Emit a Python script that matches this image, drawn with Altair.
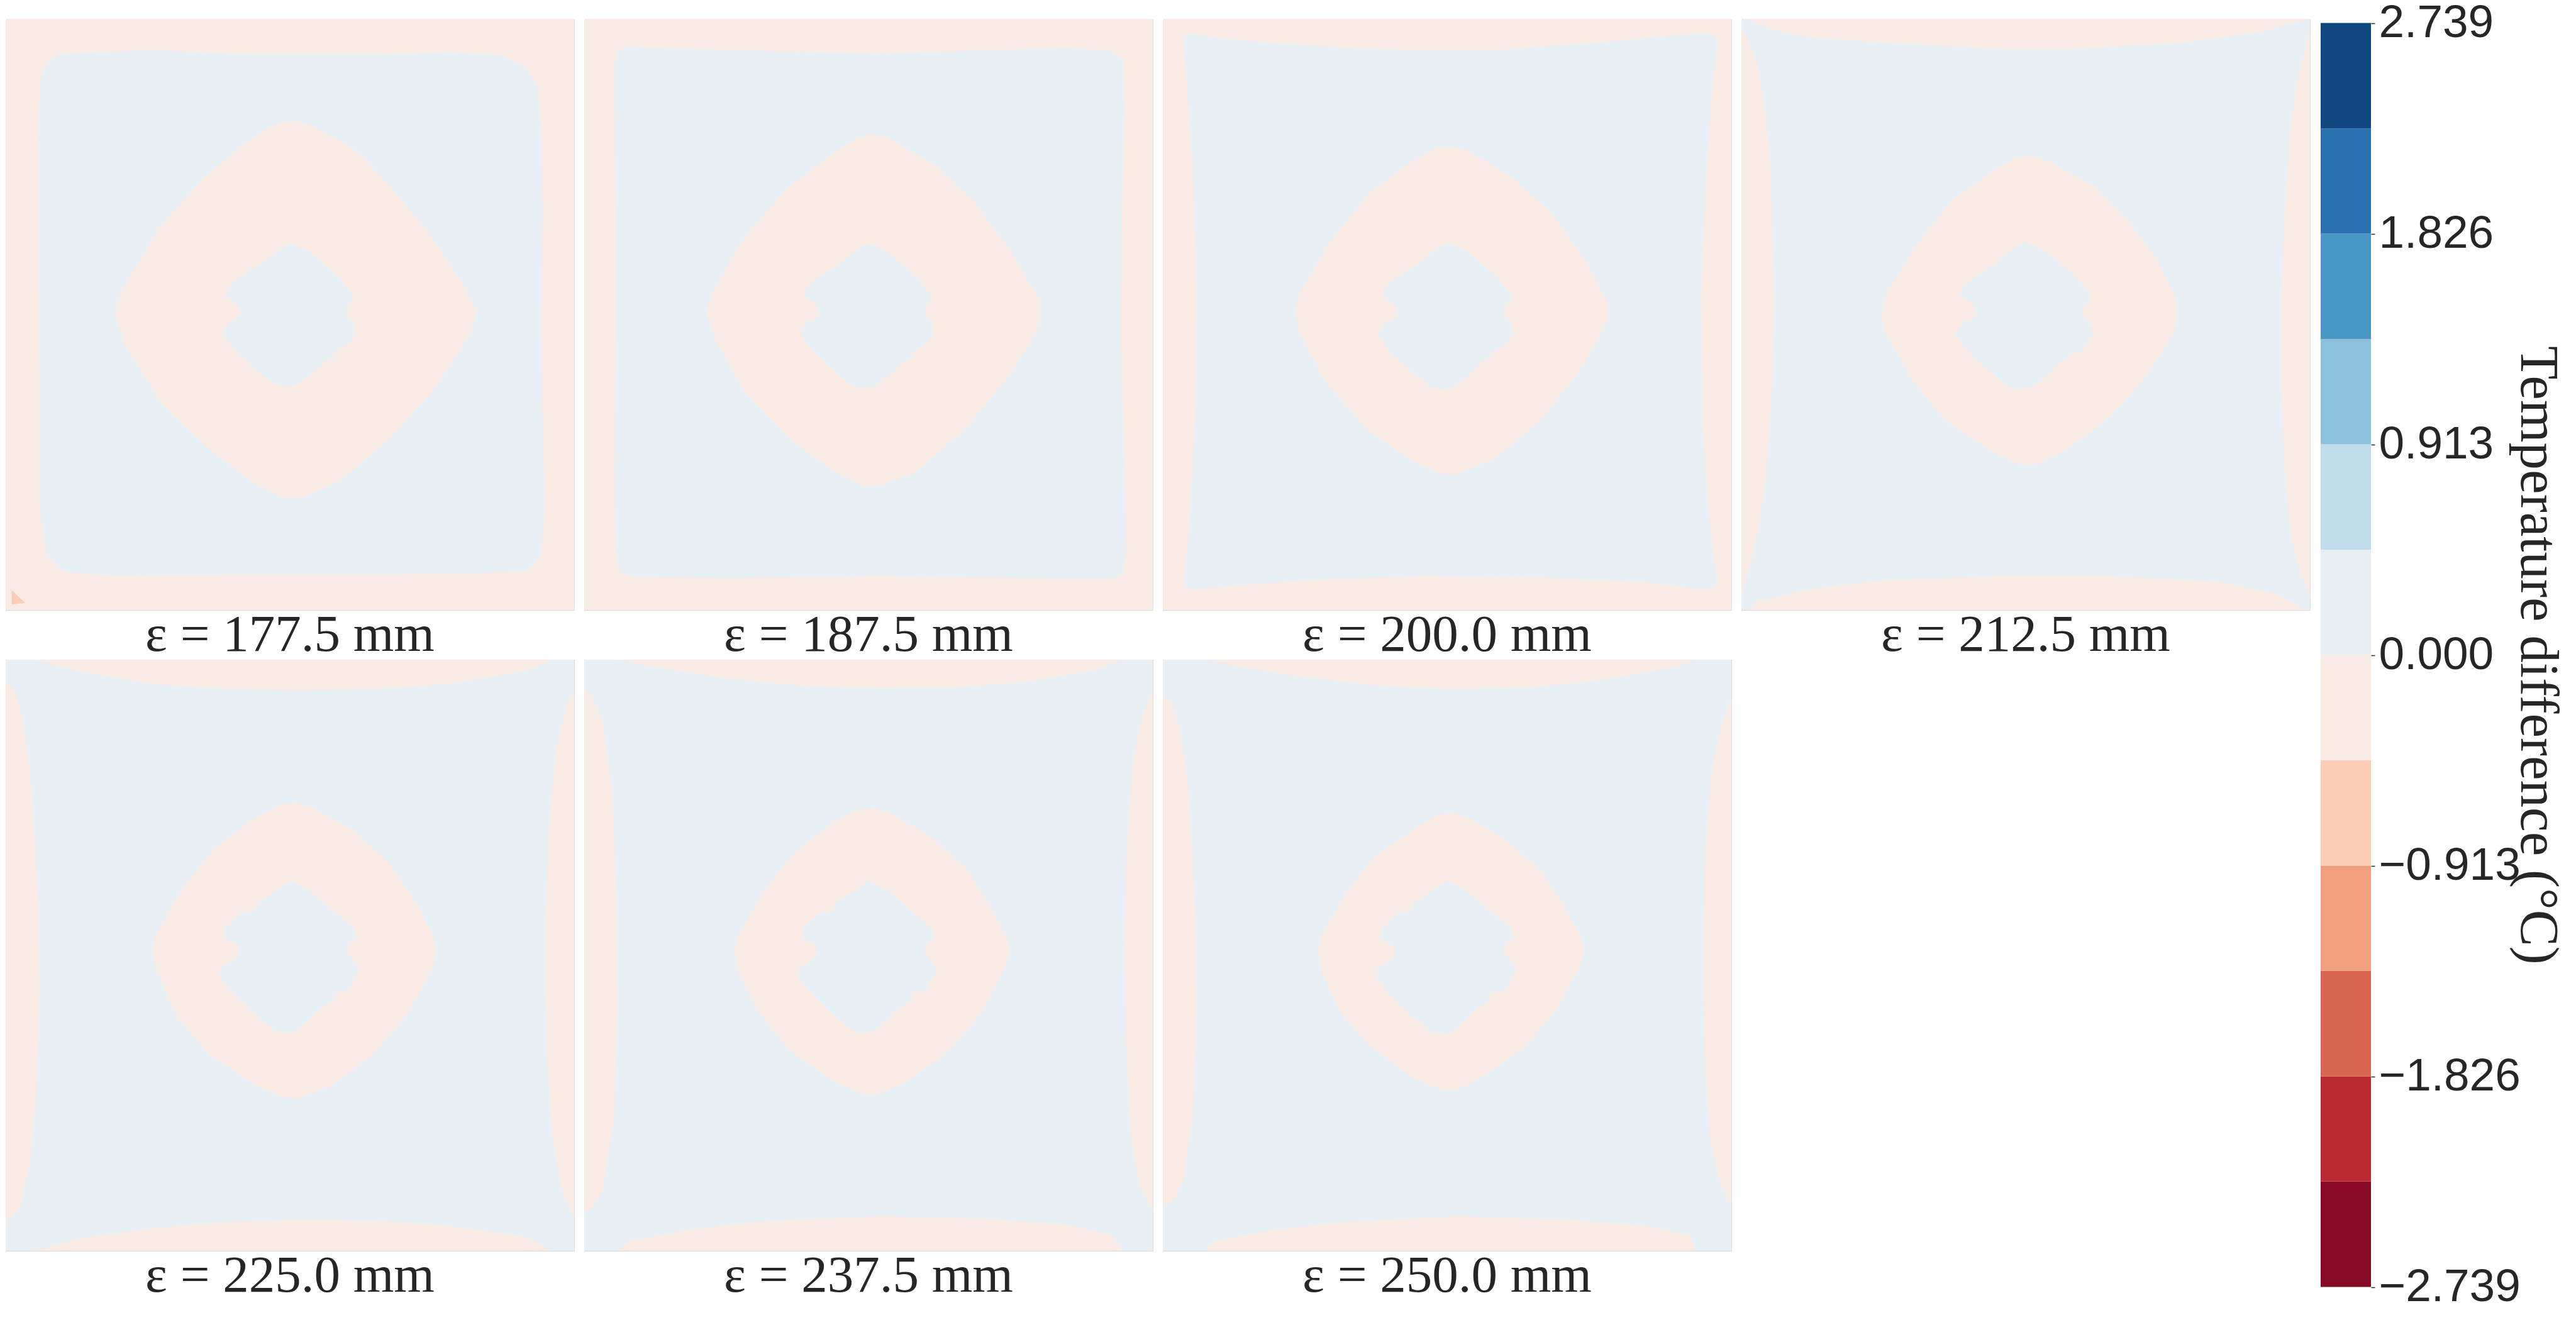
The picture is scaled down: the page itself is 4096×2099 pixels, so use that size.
import altair as alt
import pandas as pd

# ---------------- data ----------------
# colour bands of the discrete RdBu colour bar (boundaries, bottom -> top)
LEVELS = [-2.739, -2.282, -1.826, -1.369, -0.913, -0.456, 0.0,
          0.456, 0.913, 1.369, 1.826, 2.282, 2.739]
TICKS = [-2.739, -1.826, -0.913, 0.0, 0.913, 1.826, 2.739]
COLORS = ["#860a24", "#bb2a33", "#d86651", "#f29f7e", "#fbcdb6", "#f9ebe3",
          "#e7eff4", "#c1ddeb", "#8bc1dc", "#4a97c5", "#2a71b2", "#11477f"]
LEVEL_IDS = list(range(12))

LABELS = ["ε = 177.5 mm", "ε = 187.5 mm", "ε = 200.0 mm", "ε = 212.5 mm",
          "ε = 225.0 mm", "ε = 237.5 mm", "ε = 250.0 mm"]

# digitised contour outlines (picture coordinates, with the panel frame x0,x1,y0,y1)
FRAMES = [(14, 1528, 44, 1435), (15, 1530, 44, 1435), (15, 1531, 44, 1435),
          (17, 1532, 44, 1435), (14, 1528, 44, 1412), (15, 1530, 44, 1412),
          (15, 1532, 44, 1412)]

P1_OUTER = [(175,125),(400,118),(700,128),(1000,128),(1200,122),(1330,130),(1395,155),(1430,200),
            (1440,300),(1445,500),(1440,750),(1445,1000),(1450,1200),(1440,1310),(1400,1345),
            (1200,1350),(900,1352),(600,1352),(300,1355),(170,1345),(125,1310),(105,1200),
            (105,900),(102,600),(100,300),(108,180),(130,140)]
P1_DIAMOND = [(780,283),(830,295),(950,355),(1040,440),(1150,560),(1240,680),(1268,735),(1250,790),
              (1160,910),(1040,1030),(900,1135),(800,1172),(760,1172),(680,1140),(560,1060),
              (430,950),(330,810),(305,735),(320,690),(420,540),(540,420),(660,330),(740,290)]
P1_INNER = [(770,572),(820,590),(900,650),(935,690),(940,705),(925,720),(922,740),(940,760),
            (945,785),(930,805),(900,825),(890,830),(885,845),(865,850),(830,880),(790,905),
            (760,910),(730,905),(680,870),(620,820),(595,790),(598,770),(610,757),(630,750),
            (640,735),(632,715),(615,705),(600,700),(605,680),(625,660),(655,640),(665,632),
            (685,628),(730,595)]
P1_SPOT = [(30,1388),(66,1418),(30,1422)]

P2_OUTER = [(130,110),(300,115),(500,120),(800,125),(1100,118),(1300,112),(1420,120),(1450,140),
            (1455,250),(1448,500),(1445,800),(1455,1100),(1460,1300),(1450,1350),(1420,1362),
            (1200,1360),(800,1355),(400,1360),(150,1357),(108,1345),(100,1300),(95,1100),
            (100,800),(100,500),(95,250),(95,150),(105,118)]
P2_DIAMOND = [(780,315),(830,325),(950,390),(1050,470),(1150,590),(1225,700),(1235,735),(1220,780),
              (1150,880),(1030,1010),(900,1110),(800,1143),(760,1143),(680,1110),(560,1030),
              (440,920),(360,790),(340,735),(355,690),(440,560),(560,440),(680,360),(740,325)]
P2_INNER = [(770,572),(820,590),(900,650),(935,690),(940,705),(925,720),(922,740),(942,760),
            (948,785),(930,805),(900,825),(890,830),(885,845),(865,850),(830,882),(790,908),
            (762,913),(730,908),(680,872),(620,822),(592,790),(596,770),(610,757),(630,752),
            (640,735),(632,715),(615,705),(600,700),(605,680),(628,658),(658,640),(668,632),
            (688,628),(730,595)]

P3_OUTER = [(85,78),(150,88),(300,100),(500,112),(700,118),(900,118),(1100,105),(1300,90),
            (1450,78),(1490,85),(1495,105),(1480,200),(1465,400),(1450,700),(1455,1000),
            (1470,1200),(1485,1320),(1495,1365),(1480,1385),(1440,1385),(1300,1370),(1000,1357),
            (700,1355),(400,1365),(200,1378),(100,1387),(72,1380),(72,1350),(85,1250),
            (100,1000),(105,700),(95,400),(80,200),(70,110),(72,85)]
P3_DIAMOND = [(780,345),(830,355),(950,420),(1050,500),(1140,610),(1195,700),(1203,735),(1190,775),
              (1120,880),(1020,990),(900,1080),(800,1115),(760,1115),(680,1085),(560,1010),
              (450,900),(380,780),(368,735),(380,690),(460,570),(570,450),(680,380),(740,348)]
P3_INNER = [(775,570),(825,590),(905,650),(940,690),(945,705),(928,720),(925,740),(945,762),
            (950,785),(935,805),(905,825),(890,830),(887,845),(865,852),(830,885),(790,910),
            (760,917),(728,910),(680,875),(618,825),(590,790),(596,770),(610,757),(632,752),
            (642,735),(634,715),(615,705),(600,698),(605,678),(628,658),(658,640),(670,632),
            (688,628),(732,593)]

P4_TOP = [(30,44),(100,70),(200,88),(400,100),(700,115),(900,115),(1200,100),(1400,75),(1500,50),(1525,44)]
P4_LEFT = [(17,60),(60,150),(80,250),(95,400),(105,700),(100,900),(80,1150),(50,1300),(17,1400)]
P4_RIGHT = [(1532,70),(1500,180),(1480,300),(1465,500),(1455,700),(1455,900),(1465,1100),(1480,1250),(1500,1330),(1532,1400)]
P4_BOTTOM = [(40,1435),(60,1415),(200,1385),(400,1365),(700,1355),(1000,1355),(1300,1370),(1450,1400),(1520,1435)]
P4_DIAMOND = [(790,365),(840,380),(950,435),(1050,520),(1130,620),(1175,700),(1180,735),(1170,780),
              (1100,880),(1000,980),(880,1060),(800,1093),(760,1093),(680,1060),(560,990),
              (470,890),(400,780),(390,735),(405,690),(480,580),(580,470),(690,400),(750,370)]
P4_INNER = [(770,568),(825,588),(905,648),(942,688),(948,705),(930,720),(925,740),(948,762),
            (955,785),(940,805),(925,825),(895,830),(888,845),(865,852),(830,885),(790,910),
            (760,917),(728,910),(680,875),(618,825),(588,790),(596,770),(612,757),(632,752),
            (642,735),(634,715),(615,705),(598,698),(603,678),(628,658),(658,640),(672,632),
            (688,625),(732,590)]

P5_TOP = [(95,44),(200,70),(400,100),(600,112),(800,115),(1000,112),(1200,100),(1400,70),(1470,44)]
P5_BOTTOM = [(95,1412),(200,1385),(400,1360),(600,1345),(800,1340),(1000,1342),(1200,1355),(1400,1380),(1470,1412)]
P5_LEFT = [(14,95),(35,110),(60,180),(85,350),(100,600),(105,800),(95,1050),(80,1200),(55,1310),(30,1335),(14,1340)]
P5_RIGHT = [(1528,110),(1510,150),(1480,250),(1460,450),(1450,700),(1455,950),(1470,1150),(1495,1270),(1528,1340)]
P5_DIAMOND = [(785,376),(830,385),(940,440),(1030,510),(1110,610),(1155,690),(1162,718),(1150,760),
              (1080,870),(990,960),(880,1030),(800,1058),(760,1058),(680,1030),(560,960),
              (470,870),(415,760),(403,718),(415,680),(480,580),(570,480),(680,410),(745,380)]
P5_INNER = [(770,556),(820,575),(900,635),(945,668),(948,690),(925,705),(922,722),(945,745),
            (955,765),(935,790),(928,810),(890,815),(887,835),(860,845),(820,880),(790,902),
            (760,908),(730,902),(680,868),(610,808),(582,775),(590,755),(612,745),(635,725),
            (632,705),(612,695),(595,688),(598,665),(630,640),(640,628),(675,628),(682,608),(730,580)]

P6_TOP = [(110,44),(200,62),(400,88),(600,105),(800,110),(1000,108),(1200,95),(1380,68),(1450,44)]
P6_BOTTOM = [(110,1412),(130,1390),(300,1362),(500,1343),(800,1332),(1100,1338),(1300,1352),(1420,1375),(1450,1412)]
P6_LEFT = [(15,115),(35,125),(65,190),(90,350),(102,600),(105,850),(95,1100),(65,1270),(35,1315),(15,1322)]
P6_RIGHT = [(1530,115),(1500,180),(1475,300),(1460,500),(1455,700),(1460,950),(1472,1150),(1495,1260),(1530,1320)]
P6_DIAMOND = [(785,388),(830,398),(940,455),(1030,525),(1100,620),(1145,695),(1150,718),(1135,760),
              (1070,865),(985,950),(875,1020),(800,1050),(760,1050),(680,1020),(565,950),
              (480,860),(425,765),(415,718),(428,680),(490,585),(575,490),(680,420),(745,392)]
P6_INNER = [(770,556),(820,575),(900,635),(945,668),(948,690),(925,705),(922,722),(945,745),
            (955,765),(935,790),(928,810),(890,815),(887,835),(860,845),(820,880),(790,902),
            (760,908),(730,902),(680,868),(610,808),(582,775),(590,755),(612,745),(635,725),
            (632,705),(612,695),(595,688),(598,665),(630,640),(640,628),(675,628),(682,608),(730,580)]

P7_TOP = [(130,44),(250,65),(400,85),(600,105),(800,112),(1000,108),(1200,90),(1380,62),(1440,44)]
P7_BOTTOM = [(130,1412),(150,1390),(300,1365),(500,1345),(800,1332),(1100,1340),(1300,1355),(1420,1375),(1440,1412)]
P7_LEFT = [(15,130),(35,140),(60,200),(85,350),(100,600),(105,850),(95,1100),(70,1250),(40,1300),(15,1308)]
P7_RIGHT = [(1532,130),(1505,200),(1480,300),(1462,500),(1458,700),(1460,950),(1475,1150),(1500,1250),(1532,1310)]
P7_DIAMOND = [(785,398),(830,410),(930,460),(1020,530),(1090,620),(1135,695),(1140,720),(1125,760),
              (1060,860),(980,940),(870,1010),(800,1040),(760,1040),(680,1010),(570,940),
              (490,860),(440,770),(428,720),(440,680),(500,590),(580,500),(680,440),(745,405)]
P7_INNER = [(770,555),(820,575),(900,635),(948,668),(950,690),(928,705),(924,722),(948,745),
            (958,765),(938,790),(930,810),(890,815),(888,835),(860,847),(820,882),(790,905),
            (760,912),(730,905),(680,870),(610,810),(582,777),(590,757),(612,747),(635,727),
            (632,707),(612,697),(595,690),(598,667),(630,642),(640,630),(675,628),(682,608),(730,580)]

# drawing order for each panel: (level index, outline); "BG" = whole panel
PANEL_LAYERS = [
    [(5, "BG"), (6, P1_OUTER), (5, P1_DIAMOND), (6, P1_INNER), (4, P1_SPOT)],
    [(5, "BG"), (6, P2_OUTER), (5, P2_DIAMOND), (6, P2_INNER)],
    [(5, "BG"), (6, P3_OUTER), (5, P3_DIAMOND), (6, P3_INNER)],
    [(6, "BG"), (5, P4_TOP), (5, P4_LEFT), (5, P4_RIGHT), (5, P4_BOTTOM), (5, P4_DIAMOND), (6, P4_INNER)],
    [(6, "BG"), (5, P5_TOP), (5, P5_LEFT), (5, P5_RIGHT), (5, P5_BOTTOM), (5, P5_DIAMOND), (6, P5_INNER)],
    [(6, "BG"), (5, P6_TOP), (5, P6_LEFT), (5, P6_RIGHT), (5, P6_BOTTOM), (5, P6_DIAMOND), (6, P6_INNER)],
    [(6, "BG"), (5, P7_TOP), (5, P7_LEFT), (5, P7_RIGHT), (5, P7_BOTTOM), (5, P7_DIAMOND), (6, P7_INNER)],
]

# ---------------- layout / style ----------------
PW, PH = 904, 940          # panel plot size
HSP, VSP = 16, 79          # gaps between panels
CB_GAP, CB_W = 17, 80      # colour bar: gap to the last panel, width
CB_TOP, CB_BOT = 6.6, 2016.5
CAPTION_DY = 65            # caption baseline below the panel
TEXT = "#262626"


def clamp(v):
    return min(1.0, max(0.0, v))


def make_feature(points, level, frame):
    x0, x1, y0, y1 = frame
    if points == "BG":
        points = [(x0, y0), (x1, y0), (x1, y1), (x0, y1)]
    ring = [[clamp((x - x0) / (x1 - x0)) * PW, clamp((y - y0) / (y1 - y0)) * PH]
            for x, y in points]
    ring.append(ring[0])
    return {"type": "Feature", "properties": {"level": level},
            "geometry": {"type": "Polygon", "coordinates": [ring]}}


color_scale = alt.Scale(domain=LEVEL_IDS, range=COLORS)

cb_df = pd.DataFrame({"lo": LEVELS[:-1], "hi": LEVELS[1:], "level": LEVEL_IDS})
colorbar = (
    alt.Chart(cb_df)
    .mark_rect()
    .encode(
        y=alt.Y(
            "lo:Q",
            scale=alt.Scale(domain=[LEVELS[0], LEVELS[-1]], range=[CB_BOT, CB_TOP], nice=False, zero=False),
            axis=alt.Axis(
                orient="right", offset=CB_GAP + CB_W, values=TICKS, format=".3f",
                labelFont="Liberation Sans", labelFontSize=73, labelColor=TEXT,
                labelPadding=6, labelOverlap=False, labelBaseline="middle", labelLimit=500,
                tickSize=6, tickWidth=1.5, tickColor=TEXT,
                domain=False, grid=False,
                title="Temperature difference (°C)",
                titleFont="Liberation Serif", titleFontSize=87, titleFontWeight="normal",
                titleColor=TEXT, titleAngle=90, titleAlign="center", titleLimit=3000,
                titleBaseline="alphabetic", titleX=238, titleY=(CB_TOP + CB_BOT) / 2,
            ),
        ),
        y2="hi:Q",
        x=alt.value(PW + CB_GAP),
        x2=alt.value(PW + CB_GAP + CB_W),
        color=alt.Color("level:O", scale=color_scale, legend=None),
    )
)

panels = []
for i, (label, frame, layers) in enumerate(zip(LABELS, FRAMES, PANEL_LAYERS)):
    feats = [make_feature(pts, lvl, frame) for lvl, pts in layers]
    geo = (
        alt.Chart(alt.Data(values=feats))
        .mark_geoshape(strokeWidth=0, stroke="transparent")
        .encode(color=alt.Color("properties.level:O", scale=color_scale, legend=None))
        .project(type="identity")
    )
    caption = (
        alt.Chart(alt.Data(values=[{"caption": label}]))
        .mark_text(font="Liberation Serif", fontSize=83, color=TEXT,
                   align="center", baseline="alphabetic")
        .encode(text="caption:N", x=alt.value(PW / 2), y=alt.value(PH + CAPTION_DY))
    )
    parts = [geo, caption, colorbar] if i == 3 else [geo, caption]
    panels.append(alt.layer(*parts).properties(width=PW, height=PH))

chart = (
    alt.concat(*panels, columns=4, spacing={"row": VSP, "column": HSP}, bounds="flush")
    .properties(padding={"left": 8, "top": 0, "right": 0, "bottom": 0})
    .configure_view(strokeWidth=0)
    .configure(background="white")
)

chart.save("out.html", embed_options={"renderer": "svg", "actions": False})
